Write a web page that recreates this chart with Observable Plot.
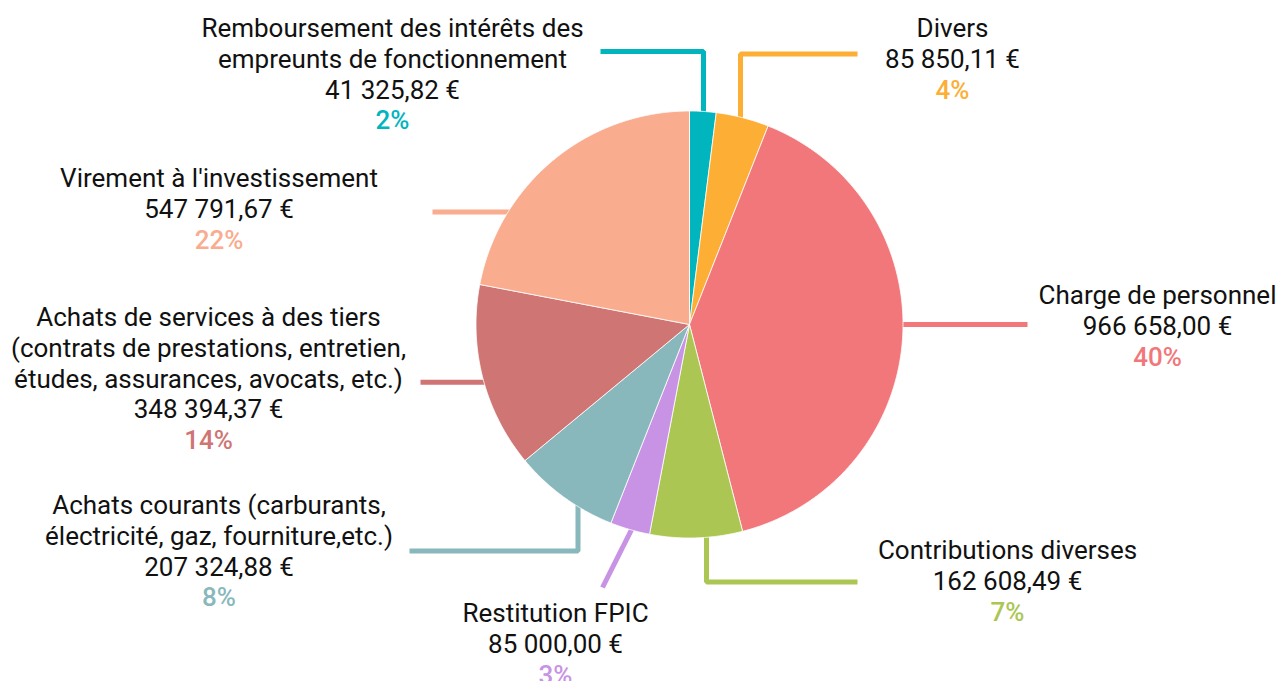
<!DOCTYPE html>
<html>
<head>
<meta charset="utf-8">
<script src="https://cdn.jsdelivr.net/npm/d3@7"></script>
<script src="https://cdn.jsdelivr.net/npm/@observablehq/plot@0.6"></script>
<style>
  html, body { margin: 0; padding: 0; background: #ffffff; }
  #chart svg { display: block; }
</style>
</head>
<body>
<div id="chart"></div>
<script>
// ---- data ----
const categories = [
  "Remboursement des intérêts des\nempreunts de fonctionnement",
  "Divers",
  "Charge de personnel",
  "Contributions diverses",
  "Restitution FPIC",
  "Achats courants (carburants,\nélectricité, gaz, fourniture,etc.)",
  "Achats de services à des tiers\n(contrats de prestations, entretien,\nétudes, assurances, avocats, etc.)",
  "Virement à l'investissement"
];
const amounts = [41325.82, 85850.11, 966658.00, 162608.49, 85000.00, 207324.88, 348394.37, 547791.67];
const percents = [2, 4, 40, 7, 3, 8, 14, 22];
const colors = ["#00b5bd", "#fdae35", "#f1777b", "#abc653", "#c893e5", "#88b8bc", "#cf7573", "#f9ac8e"];

// ---- layout (positions in pixels) ----
const W = 1277, H = 681;
const pie = {cx: 689, cy: 324, r: 213.5};
const labelPos = [
  {x: 392, top: 18},
  {x: 952, top: 18},
  {x: 1157, top: 285},
  {x: 1007, top: 540},
  {x: 555, top: 603},
  {x: 218.5, top: 495},
  {x: 208, top: 307},
  {x: 218.5, top: 168}
];
const leaders = [
  {kind: "v", x: 703, y: 51, end: 600},
  {kind: "v", x: 740, y: 53.5, end: 857},
  {kind: "h", y: 324, end: 1027},
  {kind: "v", x: 706, y: 581.5, end: 857},
  {kind: "r", angle: 195.6, end: [602, 587]},
  {kind: "v", x: 577.5, y: 550.5, end: 409},
  {kind: "h", y: 381.7, end: 420},
  {kind: "h", y: 211.5, end: 432}
];
const lineStep = 30.8;
const fontSize = 26;

// ---- derived geometry ----
const fr = d3.formatLocale({decimal: ",", thousands: " ", grouping: [3], currency: ["", " €"]});
const fmt = fr.format("$,.2f");

const arcs = d3.pie().sort(null).value(d => d)(percents);
const slicePts = [];
arcs.forEach((a, i) => {
  const cat = categories[i];
  slicePts.push({cat, x: pie.cx, y: pie.cy});
  const steps = Math.max(2, Math.ceil((a.endAngle - a.startAngle) / (Math.PI / 360)));
  for (let k = 0; k <= steps; k++) {
    const t = a.startAngle + (a.endAngle - a.startAngle) * k / steps;
    slicePts.push({cat, x: pie.cx + pie.r * Math.sin(t), y: pie.cy - pie.r * Math.cos(t)});
  }
  slicePts.push({cat, x: pie.cx, y: pie.cy});
});

const rin = pie.r - 4;
const leaderPts = [];
leaders.forEach((L, i) => {
  const cat = categories[i];
  if (L.kind === "v") {
    const dy = Math.sqrt(rin * rin - (L.x - pie.cx) ** 2);
    const y0 = L.y < pie.cy ? pie.cy - dy : pie.cy + dy;
    leaderPts.push({cat, x: L.x, y: y0}, {cat, x: L.x, y: L.y}, {cat, x: L.end, y: L.y});
  } else if (L.kind === "h") {
    const dx = Math.sqrt(rin * rin - (L.y - pie.cy) ** 2);
    const x0 = L.end < pie.cx ? pie.cx - dx : pie.cx + dx;
    leaderPts.push({cat, x: x0, y: L.y}, {cat, x: L.end, y: L.y});
  } else {
    const t = L.angle * Math.PI / 180;
    leaderPts.push({cat, x: pie.cx + rin * Math.sin(t), y: pie.cy - rin * Math.cos(t)},
                   {cat, x: L.end[0], y: L.end[1]});
  }
});

const textRows = [];
const pctRows = [];
categories.forEach((c, i) => {
  const lines = c.split("\n").concat([fmt(amounts[i])]);
  lines.forEach((t, k) => textRows.push({x: labelPos[i].x, y: labelPos[i].top + k * lineStep, text: t}));
  pctRows.push({cat: c, x: labelPos[i].x, y: labelPos[i].top + lines.length * lineStep, text: percents[i] + "%"});
});

const chart = Plot.plot({
  width: W,
  height: H,
  margin: 0,
  x: {domain: [0, W], range: [0, W], axis: null},
  y: {domain: [0, H], range: [0, H], axis: null},
  color: {domain: categories, range: colors},
  style: {fontFamily: "Roboto, sans-serif", background: "#ffffff"},
  marks: [
    Plot.line(leaderPts, {x: "x", y: "y", z: "cat", stroke: "cat", strokeWidth: 5,
      strokeLinejoin: "miter", strokeLinecap: "butt", curve: "linear"}),
    Plot.line(slicePts, {x: "x", y: "y", z: "cat", fill: "cat", stroke: "#ffffff",
      strokeWidth: 1, strokeOpacity: 0.8, strokeLinejoin: "round", curve: "linear"}),
    Plot.text(textRows, {x: "x", y: "y", text: "text", fill: "#111111", fontSize,
      fontFamily: "Roboto", fontWeight: 400, lineAnchor: "top", textAnchor: "middle"}),
    Plot.text(pctRows, {x: "x", y: "y", text: "text", fill: "cat", fontSize,
      fontFamily: "Roboto", fontWeight: 500, lineAnchor: "top", textAnchor: "middle"})
  ]
});
document.getElementById("chart").appendChild(chart);
</script>
</body>
</html>
